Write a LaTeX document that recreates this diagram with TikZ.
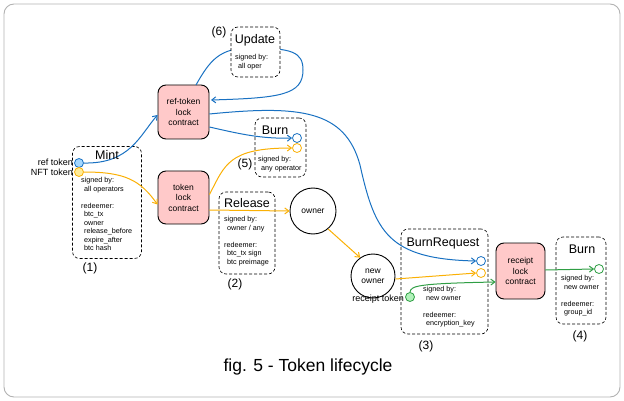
\documentclass[tikz,border=0pt]{standalone}
\usepackage{fontspec}
\setmainfont{Liberation Sans}
\usetikzlibrary{arrows.meta}
\definecolor{blueS}{HTML}{1971C2}
\definecolor{blueF}{HTML}{A5D8FF}
\definecolor{yelS}{HTML}{FAB005}
\definecolor{yelF}{HTML}{FFEC99}
\definecolor{grnS}{HTML}{2F9E44}
\definecolor{grnF}{HTML}{B2F2BB}
\definecolor{pinkF}{HTML}{FFC9C9}
\begin{document}
\begin{tikzpicture}[x=1pt,y=-1pt,
  dbox/.style={draw, dash pattern=on 3pt off 2pt, rounded corners=7pt, line width=0.6pt, inner sep=0},
  contract/.style={draw, fill=pinkF, rounded corners=8pt, line width=0.9pt, align=center, inner sep=0, font=\fontsize{8.5}{10.5}\selectfont},
  ttl/.style={font=\fontsize{12.5}{13}\selectfont, inner sep=0},
  small/.style={font=\fontsize{7.2}{8.5}\selectfont, align=left, anchor=north west, inner sep=0},
  num/.style={font=\fontsize{12}{13}\selectfont, inner sep=0},
  lbl/.style={font=\fontsize{9}{10}\selectfont, inner sep=0},
  tok/.style={circle, draw, line width=0.8pt, minimum size=9pt, inner sep=0},
  person/.style={circle, draw, line width=0.9pt, align=center, inner sep=0, font=\fontsize{8.5}{10}\selectfont},
  arr/.style={-{Straight Barb[length=4pt,width=6pt]}, line width=1pt},
]
\useasboundingbox (0,0) rectangle (624,401);
\draw[gray!60, line width=0.9pt, rounded corners=10pt] (4,4) rectangle (620,397);

% dashed boxes
\node[dbox, minimum width=69pt, minimum height=112pt] (mint) at (107,202.5) {};
\node[dbox, minimum width=51pt, minimum height=59pt] (burnfive) at (280.5,147.5) {};
\node[dbox, minimum width=56pt, minimum height=82pt] (release) at (247,233) {};
\node[dbox, minimum width=87pt, minimum height=105pt] (burnreq) at (444.5,281.5) {};
\node[dbox, minimum width=50pt, minimum height=87pt] (burnfour) at (581,280.5) {};

% contracts
\node[contract, minimum width=51pt, minimum height=54pt] (refk) at (183.5,112) {ref-token\\lock\\contract};
\node[contract, minimum width=51pt, minimum height=53pt] (tokk) at (183.5,197.5) {token\\lock\\contract};
\node[contract, minimum width=49pt, minimum height=56pt] (reck) at (520.5,271) {receipt\\lock\\contract};

% people
\node[person, minimum size=46pt] (owner) at (313,211) {owner};
\node[person, minimum size=44pt] (newowner) at (373,276) {new\\owner};

% tokens
\node[tok, draw=blueS, fill=blueF] (refc) at (79,163) {};
\node[tok, draw=yelS, fill=yelF] (nftc) at (79,172) {};
\node[tok, draw=blueS, fill=white] (b5blue) at (297,138) {};
\node[tok, draw=yelS, fill=white] (b5yel) at (297,148) {};
\node[tok, draw=blueS, fill=white] (brblue) at (481,261) {};
\node[tok, draw=yelS, fill=white] (bryel) at (481,273) {};
\node[tok, draw=grnS, fill=grnF] (recc) at (410,297) {};
\node[tok, draw=grnS, fill=white] (b4grn) at (599,269) {};

\node[lbl, anchor=east] (reflbl) at (73,162) {ref token};
\node[lbl, anchor=east] (nftlbl) at (73,172) {NFT token};
\node[lbl, anchor=east] (reclbl) at (404,299) {receipt token};

% connectors
\coordinate (loopstart) at (196,85);
\coordinate (loopend) at (211,100);
\draw[arr, blueS] (loopstart) .. controls (210,60) and (220,48) .. (250,48) .. controls (292,48) and (303,52) .. (303,70) .. controls (303,95) and (280,98) .. (loopend);

% Update box (white, over the loop)
\node[dbox, fill=white, minimum width=49pt, minimum height=50pt] (update) at (255.5,52) {};

\draw[arr, blueS] (refc.east) .. controls (130,164) and (140,135) .. ([yshift=-3pt]refk.west);
\draw[arr, yelS] (nftc.east) .. controls (125,172) and (140,180) .. ([yshift=-7pt]tokk.west);
\draw[arr, blueS] ([yshift=-2pt]refk.east) .. controls (300,105) and (345,110) .. (360,165) .. controls (375,232) and (388,259) .. (brblue.west);
\draw[arr, blueS] ([yshift=-15pt]refk.east) .. controls (240,134) and (262,139) .. (b5blue.west);
\draw[arr, yelS] ([yshift=3pt]tokk.east) .. controls (225,165) and (228,148) .. (b5yel.west);
\draw[arr, yelS] ([yshift=-12.5pt]tokk.east) -- (owner.west);
\draw[arr, yelS] (owner.-50) -- (newowner.125);
\draw[arr, yelS] ([yshift=-3pt]newowner.east) -- (bryel.west);
\draw[arr, grnS] (recc.north) .. controls (411,286) and (416,283.5) .. ([yshift=-11pt]reck.west);
\draw[arr, grnS] ([yshift=1pt]reck.east) -- (b4grn.west);

% titles
\node[ttl] (mintt) at (107,155) {Mint};
\node[ttl] (updatet) at (255,40) {Update};
\node[ttl] (burnfivet) at (275,130) {Burn};
\node[ttl] (releaset) at (247,203) {Release};
\node[ttl] (burnreqt) at (443,243) {BurnRequest};
\node[ttl] (burnfourt) at (582,249) {Burn};

% texts
\node[small] (mintx) at (81,177.5) {signed by:\\\hspace{3pt}all operators\\[8.5pt]redeemer:\\\hspace{3pt}btc\_tx\\\hspace{3pt}owner\\\hspace{3pt}release\_before\\\hspace{3pt}expire\_after\\\hspace{3pt}btc hash};
\node[small] (updatex) at (235,54.5) {signed by:\\\hspace{3pt}all oper};
\node[small] (burnfivex) at (258,156.5) {signed by:\\\hspace{3pt}any operator};
\node[small] (releasex) at (224,216.5) {signed by:\\\hspace{3pt}owner / any\\[8.5pt]redeemer:\\\hspace{3pt}btc\_tx sign\\\hspace{3pt}btc preimage};
\node[small] (burnreqx) at (423,286.5) {signed by:\\\hspace{3pt}new owner\\[8.5pt]redeemer:\\\hspace{3pt}encryption\_key};
\node[small] (burnfourx) at (561,275.5) {signed by:\\\hspace{3pt}new owner\\[8.5pt]redeemer:\\\hspace{3pt}group\_id};

% numbers
\node[num] (n1) at (90,268) {(1)};
\node[num] (n2) at (235,284) {(2)};
\node[num] (n3) at (426,346) {(3)};
\node[num] (n4) at (580,336) {(4)};
\node[num] (n5) at (245,164) {(5)};
\node[num] (n6) at (219,32) {(6)};

\node[font=\fontsize{17.5}{19}\selectfont, inner sep=0] (caption) at (308,367) {fig. 5 - Token lifecycle};
\end{tikzpicture}
\end{document}
